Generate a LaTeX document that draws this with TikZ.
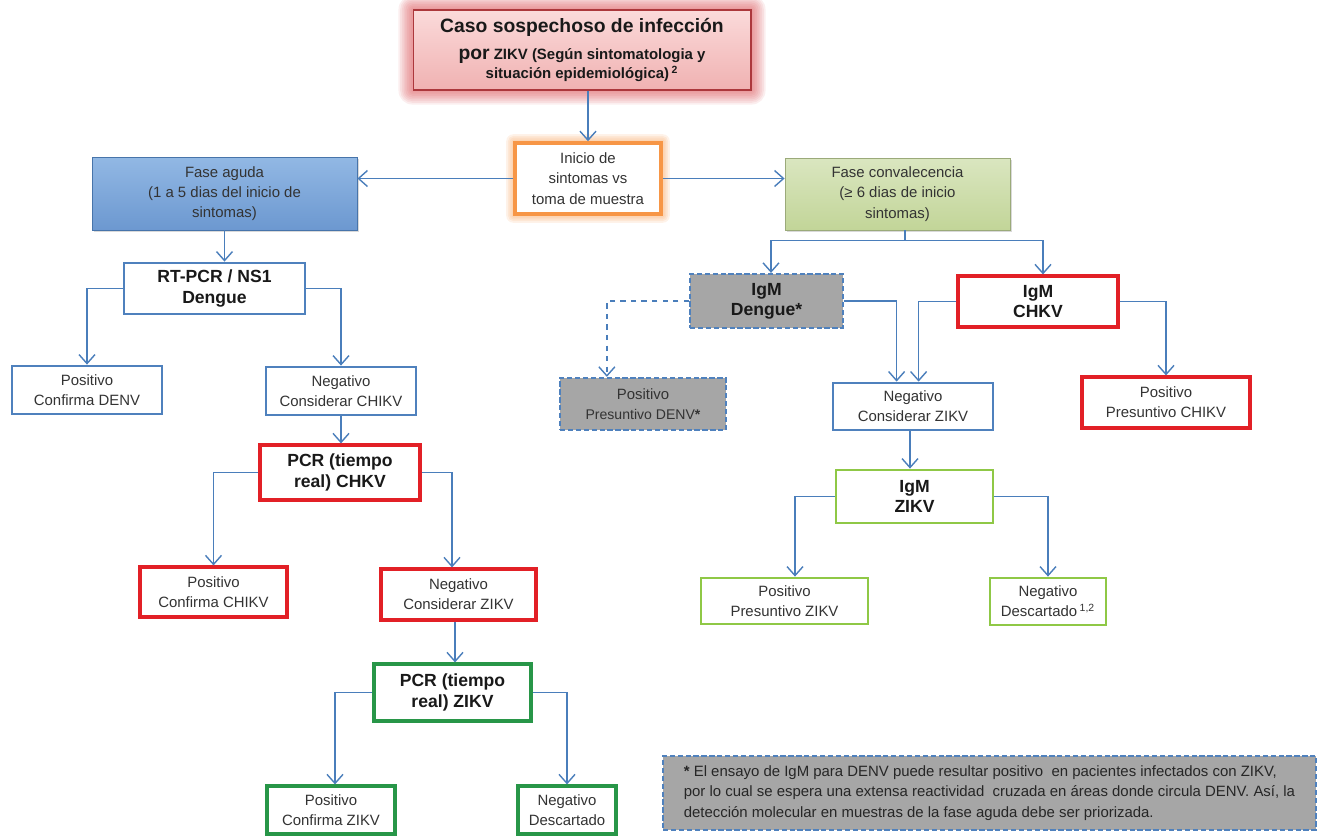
\documentclass[tikz,border=0pt]{standalone}
\usepackage{fontspec}
\setmainfont{Liberation Sans}
\usetikzlibrary{arrows.meta,shadows,backgrounds}
\definecolor{lineblue}{RGB}{74,126,187}
\definecolor{boxblue}{RGB}{79,129,189}
\definecolor{boxred}{RGB}{226,32,38}
\definecolor{lightgreen}{RGB}{143,200,70}
\definecolor{darkgreen}{RGB}{40,150,72}
\definecolor{glowred}{RGB}{215,70,75}
\definecolor{glowora}{RGB}{247,150,70}
\definecolor{grayfill}{RGB}{166,166,166}
\definecolor{casotop}{RGB}{251,218,218}
\definecolor{casobot}{RGB}{240,178,178}
\definecolor{agudatop}{RGB}{146,184,228}
\definecolor{agudabot}{RGB}{108,152,208}
\definecolor{convtop}{RGB}{218,230,192}
\definecolor{convbot}{RGB}{194,213,152}

\tikzset{
  txt/.style={align=center, inner sep=1pt, text=black!80, font=\fontsize{8.5}{11.5}\selectfont},
  bold/.style={txt, text=black!90, font=\fontsize{10}{11.5}\selectfont\bfseries},
  sz/.style 2 args={minimum width=#1cm, minimum height=#2cm},
  bluebox/.style={draw=boxblue, line width=1.6pt, fill=white},
  redbox/.style={draw=boxred, line width=1.8pt, fill=white},
  greenbox/.style={draw=lightgreen, line width=1.6pt, fill=white},
  dgreenbox/.style={draw=darkgreen, line width=1.8pt, fill=white},
  graybox/.style={draw=boxblue, dash pattern=on 3pt off 1.5pt, line width=1.3pt, fill=grayfill},
  arr/.style={draw=lineblue, line width=0.8pt, -{Straight Barb[length=1.8mm,width=3.2mm]}},
}

\begin{document}
\begin{tikzpicture}[x=0.02cm, y=-0.02cm]
\useasboundingbox (0,0) rectangle (1322,836);

\node[bold, sz={6.76}{1.6}, draw=glowred!80!black, line width=0.6pt, top color=casotop, bottom color=casobot, font=\fontsize{8.5}{11}\selectfont\bfseries] (caso) at (582,50)
  {{\fontsize{11}{15}\selectfont Caso sospechoso de infección}\\[4pt]
   {\fontsize{11}{15}\selectfont por} ZIKV (Según sintomatologia y\\
   situación epidemiológica)\,\textsuperscript{2}};
\node[txt, sz={2.92}{1.42}, draw=glowora, line width=2pt, fill=white] (inicio) at (588,178.5) {Inicio de\\sintomas vs\\toma de muestra};
\node[txt, sz={5.3}{1.46}, draw=boxblue!90!black, line width=0.5pt, top color=agudatop, bottom color=agudabot, drop shadow={shadow xshift=1.2pt, shadow yshift=-1.2pt, opacity=0.3}] (aguda) at (224.5,193.5) {Fase aguda\\(1 a 5 dias del inicio de\\sintomas)};
\node[txt, sz={4.5}{1.44}, draw=convbot!80!black, line width=0.5pt, top color=convtop, bottom color=convbot, drop shadow={shadow xshift=1.2pt, shadow yshift=-1.2pt, opacity=0.3}] (conv) at (897.5,194) {Fase convalecencia\\(≥ 6 dias de inicio\\sintomas)};

% fase aguda
\node[bold, bluebox, sz={3.62}{1.02}] (rtpcr) at (214.5,288.5) {RT-PCR / NS1\\Dengue};
\node[txt, bluebox, sz={3.0}{0.96}] (posdenv) at (87,390) {Positivo\\Confirma DENV};
\node[txt, bluebox, sz={3.0}{0.96}] (negchikv) at (341,391) {Negativo\\Considerar CHIKV};
\node[bold, redbox, sz={3.2}{1.1}] (pcrchkv) at (340,472.5) {PCR (tiempo\\real) CHKV};
\node[txt, redbox, sz={2.94}{1.0}] (poschikv) at (213.5,592) {Positivo\\Confirma CHIKV};
\node[txt, redbox, sz={3.1}{1.02}] (negzikva) at (458.5,594.5) {Negativo\\Considerar ZIKV};
\node[bold, dgreenbox, sz={3.14}{1.14}] (pcrzikv) at (452.5,692.5) {PCR (tiempo\\real) ZIKV};
\node[txt, dgreenbox, sz={2.56}{0.96}] (poszikva) at (331,810) {Positivo\\Confirma ZIKV};
\node[txt, dgreenbox, sz={1.96}{0.96}] (desca) at (567,810) {Negativo\\Descartado};

% fase convalecencia
\node[bold, graybox, sz={3.06}{1.08}] (igmden) at (766.5,301) {IgM\\Dengue*};
\node[bold, redbox, sz={3.2}{1.02}] (igmchkv) at (1038,301.5) {IgM\\CHKV};
\node[txt, graybox, sz={3.32}{1.04}] (posden) at (643,404) {Positivo\\{\fontsize{8}{10}\selectfont Presuntivo DENV\textbf{*}}};
\node[txt, bluebox, sz={3.2}{0.94}] (negzikvb) at (913,406.5) {Negativo\\Considerar ZIKV};
\node[txt, redbox, sz={3.36}{1.02}] (poschkvb) at (1166,402.5) {Positivo\\Presuntivo CHIKV};
\node[bold, greenbox, sz={3.14}{1.06}] (igmzikv) at (914.5,496.5) {IgM\\ZIKV};
\node[txt, greenbox, sz={3.34}{0.92}] (poszikvb) at (784.5,601) {Positivo\\Presuntivo ZIKV};
\node[txt, greenbox, sz={2.32}{0.94}] (descb) at (1048,601.5) {Negativo\\Descartado\,\textsuperscript{1,2}};

\node[txt, graybox, sz={13.06}{1.48}, align=left, text=black!85] (nota) at (989.5,793)
  {\textbf{*} El ensayo de IgM para DENV puede resultar positivo \ en pacientes infectados con ZIKV,\\
   por lo cual se espera una extensa reactividad \ cruzada en áreas donde circula DENV. Así, la\\
   detección molecular en muestras de la fase aguda debe ser priorizada.};

\begin{scope}[on background layer]
\foreach \g in {1,...,8}
  \fill[glowred, opacity=0.09, rounded corners={\g*1pt}]
    ([xshift={-\g*1pt}, yshift={\g*1pt}]caso.north west) rectangle ([xshift={\g*1pt}, yshift={-\g*1pt}]caso.south east);
\foreach \g in {1,...,4}
  \fill[glowora, opacity=0.12, rounded corners={\g*1pt}]
    ([xshift={-\g*1pt}, yshift={\g*1pt}]inicio.north west) rectangle ([xshift={\g*1pt}, yshift={-\g*1pt}]inicio.south east);
\end{scope}

\draw[arr] (caso.south -| inicio.north) -- (inicio.north);
\draw[arr] (inicio.west) -- (inicio.west -| aguda.east);
\draw[arr] (inicio.east) -- (inicio.east -| conv.west);

\draw[arr] (aguda.south) -- (aguda.south |- rtpcr.north);
\draw[arr] (rtpcr.west) -| (posdenv.north);
\draw[arr] (rtpcr.east) -| (negchikv.north);
\draw[arr] (negchikv.south) -- (negchikv.south |- pcrchkv.north);
\draw[arr] (pcrchkv.west) -| (poschikv.north);
\draw[arr] (pcrchkv.east) -| ([xshift=-0.13cm]negzikva.north);
\draw[arr] ([xshift=-0.07cm]negzikva.south) -- ([xshift=-0.07cm]negzikva.south |- pcrzikv.north);
\draw[arr] (pcrzikv.west) -| ([xshift=0.08cm]poszikva.north);
\draw[arr] (pcrzikv.east) -| (desca.north);

\coordinate (split) at ([yshift=-0.2cm]conv.south);
\draw[draw=lineblue, line width=0.8pt] ([xshift=0.15cm]conv.south) -- ([xshift=0.15cm]split);
\draw[arr] ([xshift=0.15cm]split) -| ([xshift=0.09cm]igmden.north);
\draw[arr] ([xshift=0.15cm]split) -| ([xshift=0.1cm]igmchkv.north);
\draw[arr, dashed] (igmden.west) -| ([xshift=0.96cm]posden.north west);
\draw[arr] (igmden.east) -| ([xshift=1.3cm]negzikvb.north west);
\draw[arr] (igmchkv.west) -| ([xshift=1.74cm]negzikvb.north west);
\draw[arr] (igmchkv.east) -| (poschkvb.north);
\draw[arr] ([xshift=-0.06cm]negzikvb.south) -- ([xshift=-0.06cm]negzikvb.south |- igmzikv.north);
\draw[arr] (igmzikv.west) -| ([xshift=0.21cm]poszikvb.north);
\draw[arr] (igmzikv.east) -| (descb.north);
\end{tikzpicture}
\end{document}
